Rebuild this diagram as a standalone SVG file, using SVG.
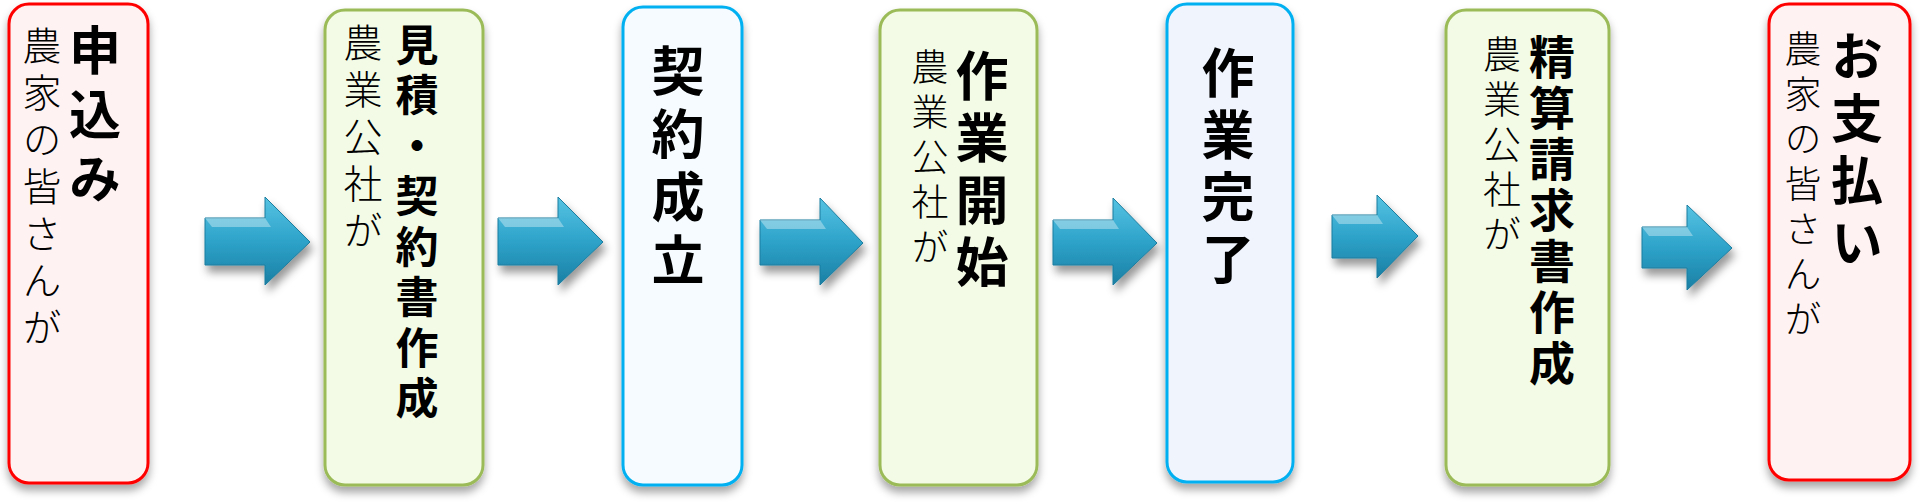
<svg xmlns="http://www.w3.org/2000/svg" width="1920" height="504" viewBox="0 0 1920 504">
<defs>
<filter id="sh" x="-20%" y="-10%" width="140%" height="125%">
<feDropShadow dx="0" dy="6" stdDeviation="4" flood-color="#000" flood-opacity="0.35"/>
</filter>
<filter id="ash" x="-20%" y="-20%" width="150%" height="160%">
<feDropShadow dx="3" dy="7" stdDeviation="4" flood-color="#000" flood-opacity="0.4"/>
</filter>
<linearGradient id="ag" x1="0" y1="0" x2="0" y2="1">
<stop offset="0" stop-color="#56c3e2"/>
<stop offset="0.5" stop-color="#2ea3ca"/>
<stop offset="1" stop-color="#1b7fa3"/>
</linearGradient>
</defs>
<style>
.box{stroke-width:3}
.red{fill:#fff2f2;stroke:#ff0000}
.grn{fill:#f3fbe6;stroke:#9bbb59}
.blu{fill:#f5fbff;stroke:#00b0f0}
.blu2{fill:#eff4fd;stroke:#00b0f0}
.big{font-family:"Noto Sans CJK JP","Noto Sans CJK SC",sans-serif;font-weight:bold;fill:#000;writing-mode:vertical-rl}
.sm{font-family:"Noto Sans CJK JP","Noto Sans CJK SC",sans-serif;font-weight:300;fill:#000;writing-mode:vertical-rl}
.arr{fill:url(#ag);stroke:#1d7d9f;stroke-width:1}
.hl{fill:#ffffff;opacity:0.35}
</style>
<rect width="1920" height="504" fill="#fff"/>

<g id="connectors">
<g filter="url(#ash)"><path class="arr" d="M205,218 L265,218 L265,197 L310,242 L265,285 L265,265 L205,265 Z"/><path class="hl" d="M205,218 L265,218 L271,227 L212,227 Z"/></g>
<g filter="url(#ash)"><path class="arr" d="M498,218 L558,218 L558,197 L603,242 L558,285 L558,265 L498,265 Z"/><path class="hl" d="M498,218 L558,218 L564,227 L505,227 Z"/></g>
<g filter="url(#ash)"><path class="arr" d="M760,220 L820,220 L820,198 L863,243 L820,285 L820,265 L760,265 Z"/><path class="hl" d="M760,220 L820,220 L826,229 L767,229 Z"/></g>
<g filter="url(#ash)"><path class="arr" d="M1053,220 L1113,220 L1113,198 L1157,243 L1113,285 L1113,265 L1053,265 Z"/><path class="hl" d="M1053,220 L1113,220 L1119,229 L1060,229 Z"/></g>
<g filter="url(#ash)"><path class="arr" d="M1332,215 L1377,215 L1377,195 L1418,236 L1377,278 L1377,258 L1332,258 Z"/><path class="hl" d="M1332,215 L1377,215 L1383,224 L1339,224 Z"/></g>
<g filter="url(#ash)"><path class="arr" d="M1642,227 L1687,227 L1687,205 L1732,248 L1687,290 L1687,268 L1642,268 Z"/><path class="hl" d="M1642,227 L1687,227 L1693,236 L1649,236 Z"/></g>
</g>

<g id="n1">
<rect class="box red" x="9" y="4" width="139" height="479" rx="20" filter="url(#sh)"/>
<text class="big" x="95" y="24" font-size="52" letter-spacing="12">申込み</text>
<text class="sm" x="42" y="26" font-size="39" letter-spacing="8">農家の皆さんが</text>
</g>

<g id="n2">
<rect class="box grn" x="325" y="10" width="158" height="475" rx="20" filter="url(#sh)"/>
<text class="big" x="417" y="23" font-size="43" letter-spacing="7.5">見積・契約書作成</text>
<text class="sm" x="363" y="23" font-size="39" letter-spacing="8">農業公社が</text>
</g>

<g id="n3">
<rect class="box blu" x="623" y="7" width="119" height="478" rx="20" filter="url(#sh)"/>
<text class="big" x="678" y="44" font-size="53" letter-spacing="10">契約成立</text>
</g>

<g id="n4">
<rect class="box grn" x="880" y="10" width="157" height="475" rx="20" filter="url(#sh)"/>
<text class="big" x="982" y="49" font-size="53" letter-spacing="9">作業開始</text>
<text class="sm" x="930" y="48" font-size="37" letter-spacing="8">農業公社が</text>
</g>

<g id="n5">
<rect class="box blu2" x="1167" y="4" width="126" height="478" rx="20" filter="url(#sh)"/>
<text class="big" x="1228" y="46" font-size="53" letter-spacing="9">作業完了</text>
</g>

<g id="n6">
<rect class="box grn" x="1446" y="10" width="163" height="475" rx="20" filter="url(#sh)"/>
<text class="big" x="1552" y="34" font-size="46" letter-spacing="5">精算請求書作成</text>
<text class="sm" x="1502" y="35" font-size="38" letter-spacing="7">農業公社が</text>
</g>

<g id="n7">
<rect class="box red" x="1769" y="4" width="141" height="476" rx="20" filter="url(#sh)"/>
<text class="big" x="1857" y="30" font-size="52" letter-spacing="10">お支払い</text>
<text class="sm" x="1803" y="30" font-size="37" letter-spacing="8">農家の皆さんが</text>
</g>
</svg>
